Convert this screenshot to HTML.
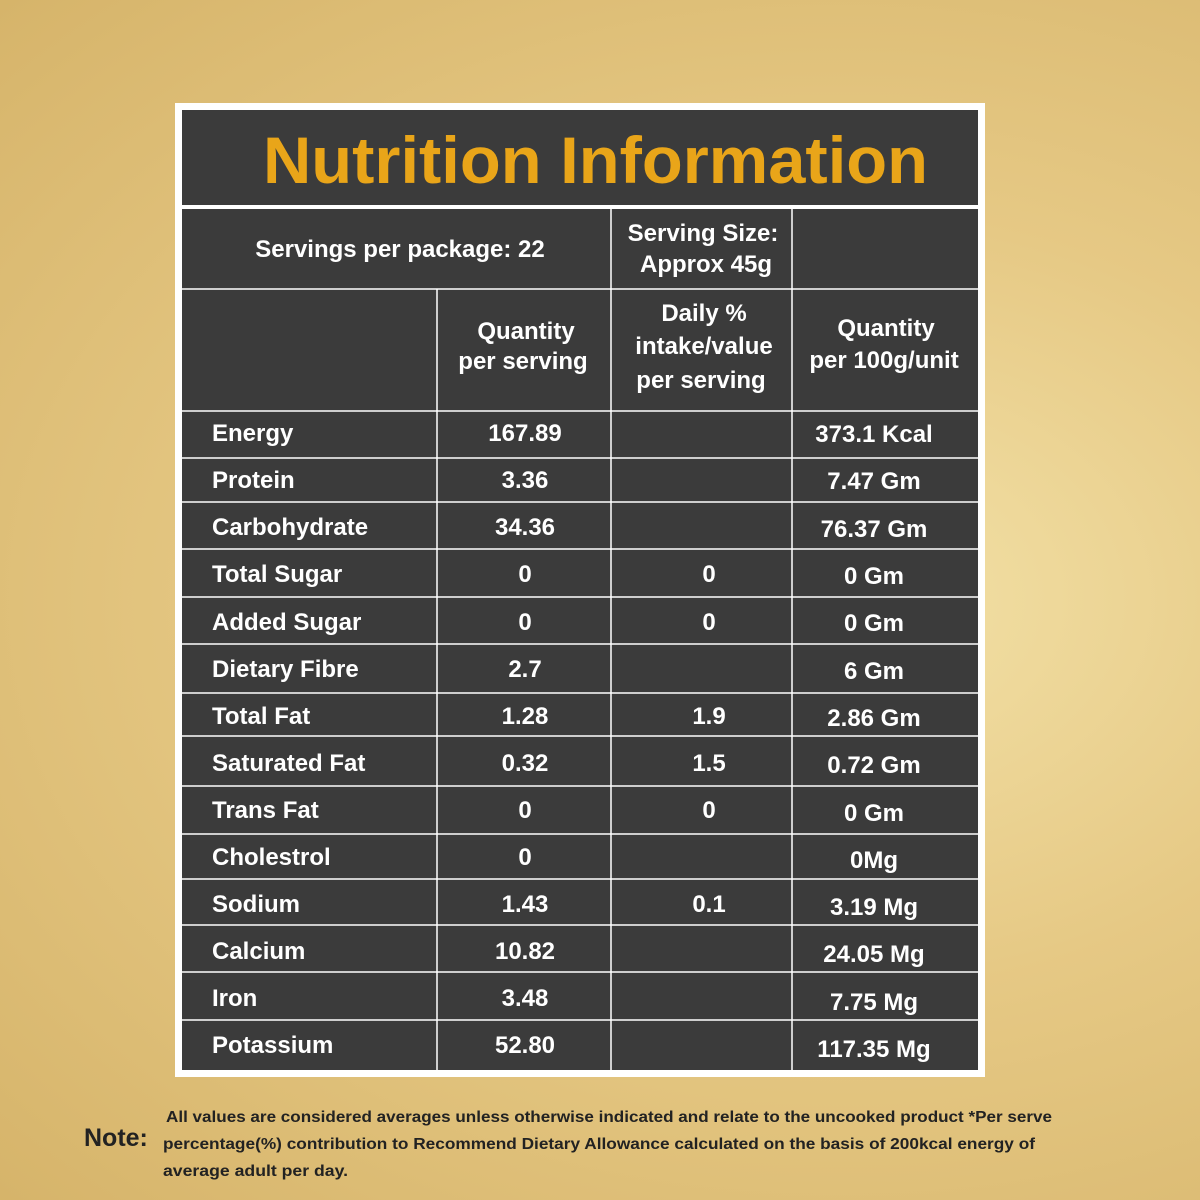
<!DOCTYPE html>
<html><head><meta charset="utf-8"><style>
html,body{margin:0;padding:0;width:1200px;height:1200px;overflow:hidden}
body{background:radial-gradient(ellipse at 70% 50%,#f3e2a8 0%,#e6c985 45%,#d6b46a 100%);}
svg{position:absolute;left:0;top:0}
text{font-family:"Liberation Sans",sans-serif;font-weight:bold;fill:#fff}
</style></head><body>
<svg width="1200" height="1200" viewBox="0 0 1200 1200">
<rect x="175" y="103" width="810" height="974" fill="#fff"/>
<rect x="182" y="110" width="796" height="95" fill="#3b3b3b"/>
<rect x="182" y="209" width="796" height="861" fill="#3b3b3b"/>
<text x="263" y="183" font-size="66" fill="#e9a519" style="fill:#e9a519" textLength="665" lengthAdjust="spacingAndGlyphs">Nutrition Information</text>
<g stroke="#fff" stroke-width="1.5">
<line x1="182" y1="289" x2="978" y2="289"/>
<line x1="611" y1="209" x2="611" y2="1070"/>
<line x1="792" y1="209" x2="792" y2="1070"/>
<line x1="437" y1="289" x2="437" y2="1070"/>
<line x1="182" y1="411" x2="978" y2="411"/>
<line x1="182" y1="458" x2="978" y2="458"/>
<line x1="182" y1="502" x2="978" y2="502"/>
<line x1="182" y1="549" x2="978" y2="549"/>
<line x1="182" y1="597" x2="978" y2="597"/>
<line x1="182" y1="644" x2="978" y2="644"/>
<line x1="182" y1="693" x2="978" y2="693"/>
<line x1="182" y1="736" x2="978" y2="736"/>
<line x1="182" y1="786" x2="978" y2="786"/>
<line x1="182" y1="834" x2="978" y2="834"/>
<line x1="182" y1="879" x2="978" y2="879"/>
<line x1="182" y1="925" x2="978" y2="925"/>
<line x1="182" y1="972" x2="978" y2="972"/>
<line x1="182" y1="1020" x2="978" y2="1020"/>
</g>
<g font-size="24" text-anchor="middle">
<text x="400" y="257">Servings per package: 22</text>
<text x="703" y="241">Serving Size:</text>
<text x="706" y="272">Approx 45g</text>
<text x="526" y="339">Quantity</text>
<text x="523" y="369">per serving</text>
<text x="704" y="321">Daily %</text>
<text x="704" y="354">intake/value</text>
<text x="701" y="388">per serving</text>
<text x="886" y="336">Quantity</text>
<text x="884" y="368">per 100g/unit</text>
</g>
<g font-size="24">
<text x="212" y="441">Energy</text>
<text x="212" y="488">Protein</text>
<text x="212" y="535">Carbohydrate</text>
<text x="212" y="582">Total Sugar</text>
<text x="212" y="630">Added Sugar</text>
<text x="212" y="677">Dietary Fibre</text>
<text x="212" y="724">Total Fat</text>
<text x="212" y="771">Saturated Fat</text>
<text x="212" y="818">Trans Fat</text>
<text x="212" y="865">Cholestrol</text>
<text x="212" y="912">Sodium</text>
<text x="212" y="959">Calcium</text>
<text x="212" y="1006">Iron</text>
<text x="212" y="1053">Potassium</text>
</g>
<g font-size="24" text-anchor="middle">
<text x="525" y="441">167.89</text>
<text x="525" y="488">3.36</text>
<text x="525" y="535">34.36</text>
<text x="525" y="582">0</text>
<text x="525" y="630">0</text>
<text x="525" y="677">2.7</text>
<text x="525" y="724">1.28</text>
<text x="525" y="771">0.32</text>
<text x="525" y="818">0</text>
<text x="525" y="865">0</text>
<text x="525" y="912">1.43</text>
<text x="525" y="959">10.82</text>
<text x="525" y="1006">3.48</text>
<text x="525" y="1053">52.80</text>
<text x="709" y="582">0</text>
<text x="709" y="630">0</text>
<text x="709" y="724">1.9</text>
<text x="709" y="771">1.5</text>
<text x="709" y="818">0</text>
<text x="709" y="912">0.1</text>
<text x="874" y="442">373.1 Kcal</text>
<text x="874" y="489">7.47 Gm</text>
<text x="874" y="537">76.37 Gm</text>
<text x="874" y="584">0 Gm</text>
<text x="874" y="631">0 Gm</text>
<text x="874" y="679">6 Gm</text>
<text x="874" y="726">2.86 Gm</text>
<text x="874" y="773">0.72 Gm</text>
<text x="874" y="821">0 Gm</text>
<text x="874" y="868">0Mg</text>
<text x="874" y="915">3.19 Mg</text>
<text x="874" y="962">24.05 Mg</text>
<text x="874" y="1010">7.75 Mg</text>
<text x="874" y="1057">117.35 Mg</text>
</g>
<text x="84" y="1146" font-size="25" style="fill:#222">Note:</text>
<g font-size="16" style="fill:#222">
<text x="166" y="1122" style="fill:#222" textLength="886" lengthAdjust="spacingAndGlyphs">All values are considered averages unless otherwise indicated and relate to the uncooked product *Per serve</text>
<text x="163" y="1149" style="fill:#222" textLength="872" lengthAdjust="spacingAndGlyphs">percentage(%) contribution to Recommend Dietary Allowance calculated on the basis of 200kcal energy of</text>
<text x="163" y="1176" style="fill:#222" textLength="185" lengthAdjust="spacingAndGlyphs">average adult per day.</text>
</g>
</svg>
</body></html>
